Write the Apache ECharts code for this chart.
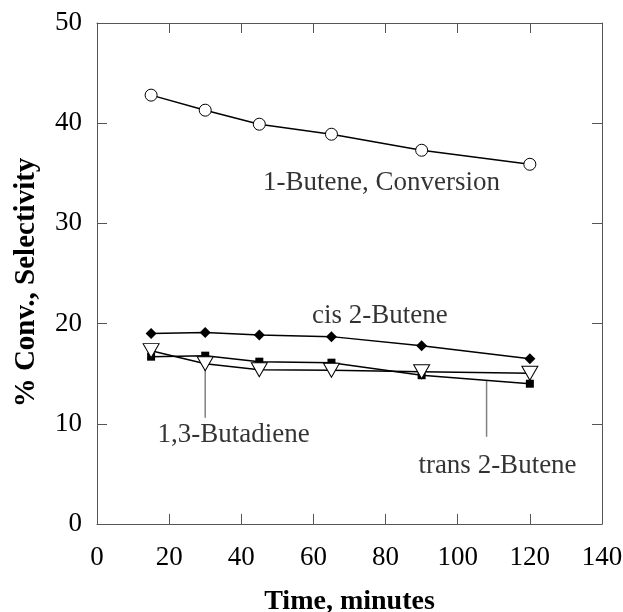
<!DOCTYPE html>
<html>
<head>
<meta charset="utf-8">
<script src="https://cdn.jsdelivr.net/npm/echarts@6/dist/echarts.min.js"></script>
<style>html,body{margin:0;padding:0;background:#fff}#c{width:623px;height:612px}</style>
</head>
<body>
<div id="c"></div>
<script>
const times = [15, 30, 45, 65, 90, 120];
const butene1Conversion = [42.8, 41.3, 39.9, 38.9, 37.3, 35.9];
const cis2Butene = [19.0, 19.1, 18.85, 18.7, 17.8, 16.5];
const trans2Butene = [16.7, 16.8, 16.2, 16.1, 14.85, 14.0];
const butadiene13 = [17.3, 16.0, 15.4, 15.35, 15.2, 15.05];
const xTicks = [0, 20, 40, 60, 80, 100, 120, 140];
const yTicks = [0, 10, 20, 30, 40, 50];
const annotationNames = ['1-Butene, Conversion', 'cis 2-Butene', '1,3-Butadiene', 'trans 2-Butene'];
const annotationX = [46.0, 59.6, 16.8, 89.1];
const annotationY = [34.0, 20.8, 8.9, 5.8];
const leaderButadiene = [[30, 16.0], [30, 10.6]];
const leaderTrans = [[108, 14.35], [108, 8.7]];

const FONT = '"Liberation Serif", "Times New Roman", serif';
const axisColor = '#555';
const pair = (xs, ys) => xs.map((x, i) => [x, ys[i]]);

const chart = echarts.init(document.getElementById('c'), null, {renderer: 'canvas'});
const lineStyle = {color: '#000', width: 1.5};
const frameAxis = {
  axisLine: {show: true, onZero: false, lineStyle: {color: axisColor, width: 1}},
  axisTick: {show: true, inside: true, length: 10, lineStyle: {color: axisColor}},
  splitLine: {show: false}
};
chart.setOption({
  animation: false,
  backgroundColor: '#fff',
  grid: {left: 97, right: 21, top: 23, bottom: 88, containLabel: false, outerBoundsMode: 'none'},
  xAxis: [Object.assign({
    type: 'value', min: xTicks[0], max: xTicks[xTicks.length - 1], interval: 20,
    position: 'bottom',
    name: 'Time, minutes', nameLocation: 'middle', nameGap: 64,
    nameTextStyle: {fontFamily: FONT, fontSize: 28, fontWeight: 'bold', color: '#000'},
    axisLabel: {fontFamily: FONT, fontSize: 27, color: '#000', margin: 20}
  }, frameAxis), Object.assign({
    type: 'value', min: xTicks[0], max: xTicks[xTicks.length - 1], interval: 20,
    position: 'top',
    axisLabel: {show: false}
  }, frameAxis)],
  yAxis: [Object.assign({
    type: 'value', min: yTicks[0], max: yTicks[yTicks.length - 1], interval: 10,
    position: 'left',
    name: '% Conv., Selectivity', nameLocation: 'middle', nameGap: 56,
    nameTextStyle: {fontFamily: FONT, fontSize: 29, fontWeight: 'bold', color: '#000', padding: [0, 18, 0, 0]},
    axisLabel: {fontFamily: FONT, fontSize: 27, color: '#000', margin: 15}
  }, frameAxis), Object.assign({
    type: 'value', min: yTicks[0], max: yTicks[yTicks.length - 1], interval: 10,
    position: 'right',
    axisLabel: {show: false}
  }, frameAxis)],
  series: [
    {type: 'line', z: 1, data: leaderButadiene, symbol: 'none', lineStyle: {color: '#808080', width: 1.5}},
    {type: 'line', z: 1, data: leaderTrans, symbol: 'none', lineStyle: {color: '#808080', width: 1.5}},
    {type: 'line', z: 3, data: pair(times, butene1Conversion), symbol: 'circle', symbolSize: 12,
      lineStyle: lineStyle, itemStyle: {color: '#fff', borderColor: '#000', borderWidth: 1}},
    {type: 'line', z: 3, data: pair(times, cis2Butene), symbol: 'diamond', symbolSize: 11,
      lineStyle: lineStyle, itemStyle: {color: '#000', borderColor: '#000', borderWidth: 0}},
    {type: 'line', z: 3, data: pair(times, trans2Butene), symbol: 'rect', symbolSize: 8,
      lineStyle: lineStyle, itemStyle: {color: '#000', borderColor: '#000', borderWidth: 0}},
    {type: 'line', z: 4, data: pair(times, butadiene13), symbol: 'triangle', symbolRotate: 180, symbolSize: [16, 14],
      lineStyle: lineStyle, itemStyle: {color: '#fff', borderColor: '#000', borderWidth: 1}},
    {type: 'scatter', z: 5, symbolSize: 0, silent: true,
      data: annotationNames.map((n, i) => ({name: n, value: [annotationX[i], annotationY[i]]})),
      label: {show: true, position: 'right', distance: 0, formatter: p => p.name,
        fontFamily: FONT, fontSize: 27, color: '#000', align: 'left', verticalAlign: 'middle'}}
  ]
});
</script>
</body>
</html>
